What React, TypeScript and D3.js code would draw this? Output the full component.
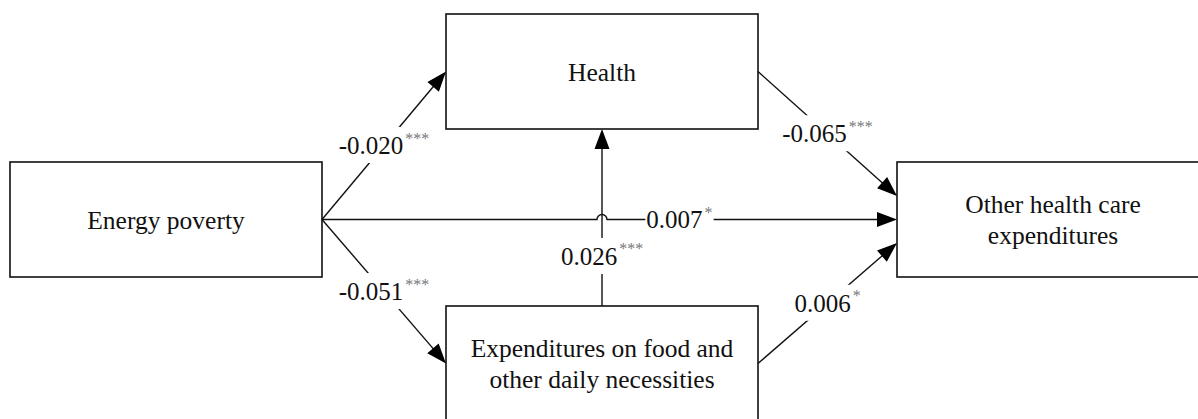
import React, { useEffect, useRef } from "react";
import * as d3 from "d3";

// ---- data ----
const nodeIds = ["ep", "health", "exp", "other"];
const nodeLabels: string[][] = [
  ["Energy poverty"],
  ["Health"],
  ["Expenditures on food and", "other daily necessities"],
  ["Other health care", "expenditures"],
];
// node box geometry (layout)
const nodeBoxes = [
  { x: 10, y: 162, w: 312, h: 115 },
  { x: 446, y: 14, w: 312, h: 115 },
  { x: 446, y: 306, w: 312, h: 115 },
  { x: 897, y: 162, w: 312, h: 115 },
];

const edgeFrom = ["ep", "ep", "ep", "exp", "health", "exp"];
const edgeTo = ["health", "exp", "other", "health", "other", "other"];
const edgeCoef = ["-0.020", "-0.051", "0.007", "0.026", "-0.065", "0.006"];
const edgeStars = ["***", "***", "*", "***", "***", "*"];
// anchor sides & offsets, label position along the edge (layout)
const edgeFromSide = ["right", "right", "right", "top", "right", "right"];
const edgeToSide = ["left", "left", "left", "bottom", "left", "left"];
const edgeToOffset = [0, 0, 0, 0, -23.5, 23.5];
const edgeLabelT = [0.5, 0.5, 0.6217, 0.28, 0.5, 0.5];
const edgeHop = [null, null, 602, null, null, null];

const W = 1198;
const H = 419;
const FONT = '"Liberation Serif", "Times New Roman", Times, "DejaVu Serif", serif';

function anchor(box: { x: number; y: number; w: number; h: number }, side: string, off: number) {
  if (side === "right") return [box.x + box.w, box.y + box.h / 2 + off];
  if (side === "left") return [box.x, box.y + box.h / 2 + off];
  if (side === "top") return [box.x + box.w / 2 + off, box.y];
  return [box.x + box.w / 2 + off, box.y + box.h];
}

export default function App() {
  const ref = useRef<SVGSVGElement | null>(null);

  useEffect(() => {
    const svg = d3.select(ref.current);
    svg.selectAll("*").remove();

    const idx = (id: string) => nodeIds.indexOf(id);

    // boxes
    const gNodes = svg.append("g");
    nodeIds.forEach((id, i) => {
      const b = nodeBoxes[i];
      gNodes
        .append("rect")
        .attr("x", b.x)
        .attr("y", b.y)
        .attr("width", b.w)
        .attr("height", b.h)
        .attr("fill", "#fff")
        .attr("stroke", "#111")
        .attr("stroke-width", 1.6);
      const lines = nodeLabels[i];
      const lh = 31;
      const cx = b.x + b.w / 2;
      const cy = b.y + b.h / 2;
      lines.forEach((ln, j) => {
        gNodes
          .append("text")
          .attr("x", cx)
          .attr("y", cy + (j - (lines.length - 1) / 2) * lh + 9)
          .attr("text-anchor", "middle")
          .style("font-family", FONT)
          .style("font-size", "25.5px")
          .attr("fill", "#111")
          .text(ln);
      });
    });

    // edges
    const gEdges = svg.append("g");
    const gLabels = svg.append("g");
    edgeFrom.forEach((f, i) => {
      const p0 = anchor(nodeBoxes[idx(f)], edgeFromSide[i], 0);
      const p1 = anchor(nodeBoxes[idx(edgeTo[i])], edgeToSide[i], edgeToOffset[i]);
      const dx = p1[0] - p0[0];
      const dy = p1[1] - p0[1];
      const len = Math.hypot(dx, dy);
      const ux = dx / len;
      const uy = dy / len;
      const headL = 20;
      const headW = 7.5;
      const base = [p1[0] - ux * headL, p1[1] - uy * headL];

      const path = d3.path();
      path.moveTo(p0[0], p0[1]);
      const hop = edgeHop[i];
      if (hop != null) {
        const r = 5;
        path.lineTo(hop - r, p0[1]);
        path.arc(hop, p0[1], r, Math.PI, 0, false);
      }
      path.lineTo(base[0] + ux * 2, base[1] + uy * 2);
      gEdges
        .append("path")
        .attr("d", path.toString())
        .attr("fill", "none")
        .attr("stroke", "#111")
        .attr("stroke-width", 1.4);
      const nx = -uy;
      const ny = ux;
      gEdges
        .append("path")
        .attr(
          "d",
          `M${p1[0]},${p1[1]}L${base[0] + nx * headW},${base[1] + ny * headW}L${base[0] - nx * headW},${base[1] - ny * headW}Z`
        )
        .attr("fill", "#000");

      // label
      const t = edgeLabelT[i];
      const px = p0[0] + dx * t;
      const py = p0[1] + dy * t;
      const g = gLabels.append("g");
      const bg = g.append("rect").attr("fill", "#fff");
      const main = g
        .append("text")
        .style("font-family", FONT)
        .style("font-size", "25px")
        .attr("fill", "#111")
        .text(edgeCoef[i]);
      const sup = g
        .append("text")
        .style("font-family", FONT)
        .style("font-size", "16px")
        .attr("fill", "#777")
        .text(edgeStars[i]);
      const wm = (main.node() as SVGTextElement).getComputedTextLength();
      const ws = (sup.node() as SVGTextElement).getComputedTextLength();
      const total = wm + ws + 2;
      const x0 = px - total / 2;
      const baseline = py + 8.5;
      main.attr("x", x0).attr("y", baseline);
      sup.attr("x", x0 + wm + 2).attr("y", baseline - 10.5);
      bg.attr("x", x0 - 1)
        .attr("y", baseline - 27)
        .attr("width", total + 2)
        .attr("height", 36);
    });
  }, []);

  return (
    <svg
      ref={ref}
      width={W}
      height={H}
      style={{ position: "absolute", left: 0, top: 0, background: "#fff" }}
    />
  );
}
